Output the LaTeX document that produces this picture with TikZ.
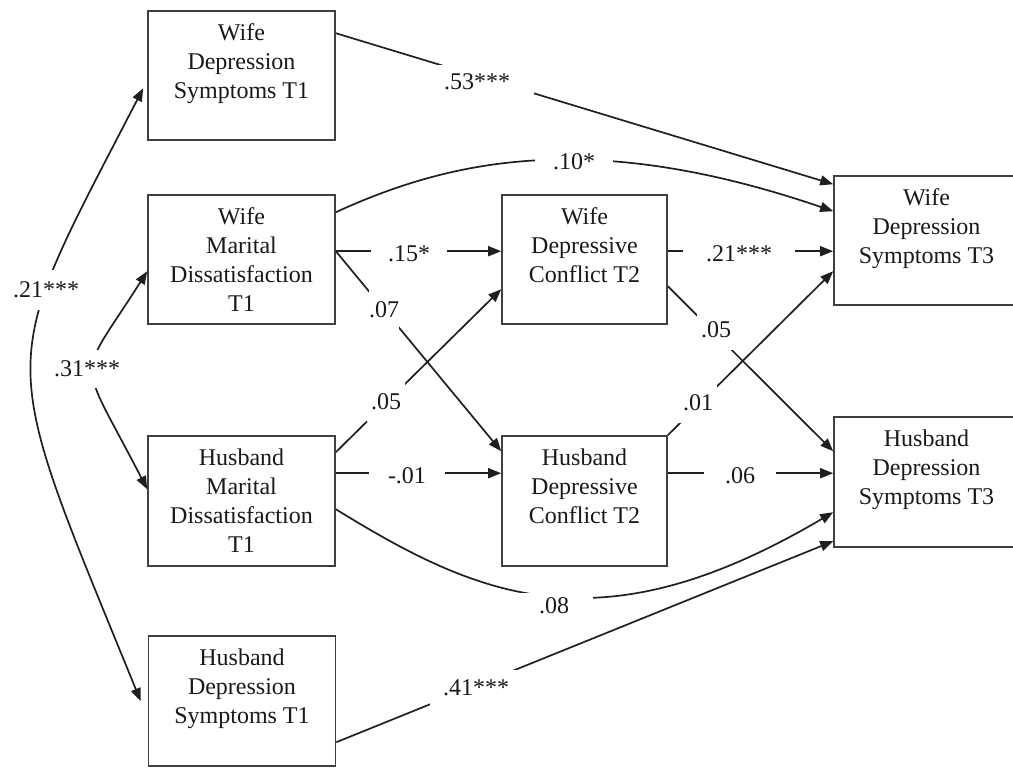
\documentclass[tikz,border=0pt]{standalone}
\usepackage{fontspec}
\setmainfont{Liberation Serif}
\usetikzlibrary{arrows.meta,calc}
\begin{document}
\begin{tikzpicture}[x=1pt,y=-1pt,
  box/.style={draw=black!75, line width=1.6pt, inner sep=0pt, align=center,
    font=\fontsize{24}{29}\selectfont, text=black!90},
  lbox/.style={box, minimum width=187pt, minimum height=130pt},
  mbox/.style={box, minimum width=165pt, minimum height=129pt},
  rbox/.style={box, minimum width=185pt, minimum height=129pt},
  tip/.style={},
  conn/.style={line width=1.7pt, draw=black!88, -{Triangle[length=13pt,width=10pt]}},
  dconn/.style={line width=1.7pt, draw=black!88, {Triangle[length=13pt,width=10pt]}-{Triangle[length=13pt,width=10pt]}},
  lab/.style={fill=white, inner sep=0pt, font=\fontsize{24}{29}\selectfont, text=black!90}]
\useasboundingbox (0,0) rectangle (1013,769);

% boxes
\node[lbox, minimum height=129pt] (wd1) at (241.5,75.5) {Wife\\Depression\\Symptoms T1\\\mbox{}};
\node[lbox, minimum height=129pt] (wm1) at (241.5,259.5) {Wife\\Marital\\Dissatisfaction\\T1};
\node[lbox] (hm1) at (241.5,501) {Husband\\Marital\\Dissatisfaction\\T1};
\node[lbox] (hd1) at (242,701) {Husband\\Depression\\Symptoms T1\\\mbox{}};
\node[mbox] (wdc2) at (584.5,259.5) {Wife\\Depressive\\Conflict T2\\\mbox{}};
\node[mbox, minimum height=130pt] (hdc2) at (584.5,501) {Husband\\Depressive\\Conflict T2\\\mbox{}};
\node[rbox] (wds3) at (926.5,240.5) {Wife\\Depression\\Symptoms T3\\\mbox{}};
\node[rbox, minimum height=130pt] (hds3) at (926.5,482) {Husband\\Depression\\Symptoms T3\\\mbox{}};

% connectors
\draw[conn] ($(wd1.north east)+(0,23)$) -- ($(wds3.north west)+(0,9)$);
\draw[conn] ($(wm1.north east)+(0,18)$) .. controls (450,160) and (590,128) .. ($(wds3.north west)+(0,36)$);
\draw[conn] ($(wm1.north east)+(0,57)$) -- ($(wdc2.north west)+(0,57)$);
\draw[conn] ($(wm1.north east)+(0,57)$) -- ($(hdc2.north west)+(0,16)$);
\draw[conn] ($(hm1.north east)+(0,17)$) -- ($(wdc2.north west)+(0,95)$);
\draw[conn] ($(hm1.north east)+(0,38)$) -- ($(hdc2.north west)+(0,38)$);
\draw[conn] ($(hm1.north east)+(0,74)$) .. controls (480,598) and (600,650) .. ($(hds3.north west)+(0,96)$);
\draw[conn] ($(hd1.north east)+(0,107)$) -- ($(hds3.north west)+(0,125)$);
\draw[conn] ($(wdc2.north east)+(0,57)$) -- ($(wds3.north west)+(0,76)$);
\draw[conn] ($(wdc2.north east)+(0,92)$) -- ($(hds3.north west)+(0,35)$);
\draw[conn] (hdc2.north east) -- ($(wds3.north west)+(0,96)$);
\draw[conn] ($(hdc2.north east)+(0,38)$) -- ($(hds3.north west)+(0,57)$);
\draw[dconn] ($(wd1.north west)+(-4,78)$) .. controls (-5,375) and (-5,344) .. ($(hd1.north west)+(-7,66)$);
\draw[dconn] ($(wm1.north west)+(0,77)$) .. controls (76,384) and (76,351) .. ($(hm1.north west)+(0,54)$);

% labels
\node[lab, inner xsep=24pt, inner ysep=9pt] (l53) at (477,82) {.53***};
\node[lab, inner xsep=18pt, inner ysep=6pt] (l10) at (574,162) {.10*};
\node[lab, inner xsep=17pt, inner ysep=4pt] (l15) at (409,254) {.15*};
\node[lab, inner xsep=0pt, inner ysep=12pt] (l07) at (384,310) {.07};
\node[lab, inner xsep=4pt, inner ysep=12pt] (l05a) at (386,402) {.05};
\node[lab, inner xsep=19pt, inner ysep=4pt] (l01a) at (407,476) {-.01};
\node[lab, inner xsep=24pt, inner ysep=5pt] (l08) at (554,606) {.08};
\node[lab, inner xsep=13pt, inner ysep=10pt] (l41) at (476,688) {.41***};
\node[lab, inner xsep=23pt, inner ysep=4pt] (l21b) at (739,254) {.21***};
\node[lab, inner xsep=4pt, inner ysep=12pt] (l05b) at (716,330) {.05};
\node[lab, inner xsep=4pt, inner ysep=12pt] (l01b) at (698,403) {.01};
\node[lab, inner xsep=21pt, inner ysep=4pt] (l06) at (740,476) {.06};
\node[lab, inner xsep=2pt, inner ysep=12pt] (l21a) at (46,290) {.21***};
\node[lab, inner xsep=2pt, inner ysep=11pt] (l31) at (87,369) {.31***};
\end{tikzpicture}
\end{document}
